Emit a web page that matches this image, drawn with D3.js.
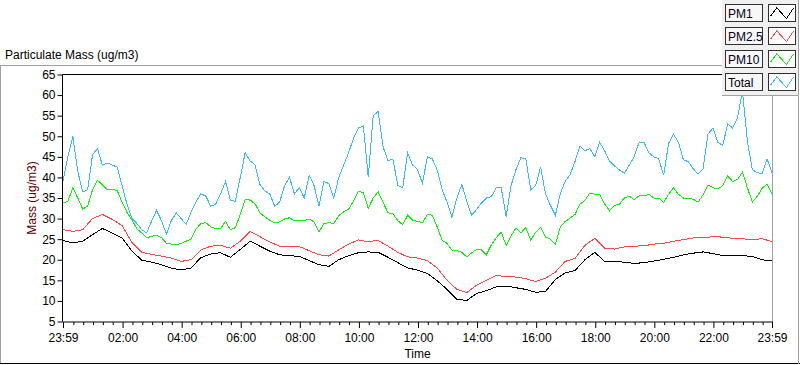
<!DOCTYPE html>
<html>
<head>
<meta charset="utf-8">
<script src="https://cdnjs.cloudflare.com/ajax/libs/d3/7.8.5/d3.min.js"></script>
<style>
  body { margin: 0; background: #fff; }
  svg { display: block; font-family: "Liberation Sans", Arial, sans-serif; font-size: 12px; }
</style>
</head>
<body>
<div id="chart"></div>
<script>
// Total and PM10 : one value every 10 minutes, 23:59 -> 23:59
const totalMass = [39, 45, 50, 41.5, 36.5, 37, 45.5, 47, 43, 43.5, 43, 42.5, 38, 33.5, 30, 28.8, 27.3, 26.5, 29.4, 32,
  29.5, 26.2, 29.5, 31.4, 30, 28.6, 31.5, 34, 36, 35.5, 33, 33.5, 36, 39, 34.5, 34.2, 40,
  46, 44, 43.1, 38.3, 36.7, 36, 33, 34, 38, 40, 36, 37.5, 35, 40.5, 38, 33, 39, 38.5, 35, 40, 43, 46, 49.5, 52,
  52.5, 40, 55, 56, 47.5, 44, 44.5, 38, 37.5, 46, 43,
  42, 38.5, 45, 44.5, 41.8, 37, 34, 30.3, 35, 38.3, 34.2, 30.8, 32.2, 33.8, 35, 35.3, 37.5, 37.5, 30.5, 38,
  41.9, 44.8, 44.5, 37, 38, 42.5, 36, 33.2, 30.8, 36, 39.1, 40.7, 43.9, 47.6, 46.5, 47,
  45, 48.5, 46.5, 44, 42.8, 41.8, 41, 43, 45, 48.5, 48.5, 46, 45, 44.5, 40.5, 48.3, 50.5, 48.5, 44.3, 43.8,
  42.1, 40.8, 42, 50.5, 52, 48.5, 47.8, 53, 52, 54.5, 61, 48.8, 41.9, 41.1, 41, 44.5, 41.1];

const pm10 = [33.8, 34.2, 37.5, 35, 32.3, 33, 37, 39.3, 38.2, 37, 37.1, 36.8, 34, 31.5, 29.7, 27.5, 26.5, 25.3, 25.7, 25.9,
  25.4, 24, 23.8, 23.6, 24, 24.5, 25, 27.4, 28.8, 29, 28, 27.6, 27.6, 29.3, 27.3, 27.8, 31,
  34.6, 34.5, 33.6, 31.4, 30.4, 29.6, 29, 29.2, 29.9, 30.2, 29.5, 29.6, 29.5, 29.9, 29.2, 26.8, 28.8, 29, 28.8,
  30.7, 31.6, 32.3, 34.2, 36.6, 36.3, 32.5, 35, 36.5, 34, 31.4, 31.2, 29.5, 28.5, 30.8, 29.6,
  29.3, 29, 31, 30.8, 28, 24.7, 24, 22.3, 22.2, 21.8, 20.7, 21.7, 22.5, 22.4, 21.2, 23.6, 25.4, 26.7, 23.5, 25.8,
  27.7, 26.5, 27.8, 24.8, 26.7, 27.9, 25.5, 25, 23.7, 28, 29.3, 30.1, 31, 33.5, 34.4, 36.2,
  35.9, 35.8, 33.6, 31.9, 33.2, 33.5, 35, 35.5, 34.6, 35.5, 35.5, 35.9, 35, 35, 33.9, 35.9, 37.5, 35.9, 35, 35,
  34.7, 34, 35.8, 38.2, 37.5, 37.2, 38, 40.4, 39, 39.5, 41.3, 37.5, 34, 35.4, 37.4, 38.3, 35.9];

// PM1 and PM2.5 : one value every 20 minutes
const pm1 = [24.7, 24.1, 24.5, 26.1, 27.6, 26.5, 25.3, 22.1, 19.9, 19.4, 18.8, 18.0, 17.5, 18.0, 20.5, 21.4, 21.7, 20.6, 22.5,
  24.5, 23.3, 22.1, 21.2, 21.0, 20.8, 19.8, 18.8, 18.4, 20.0, 21.0, 21.7, 21.9, 21.8, 20.6, 19.3, 18.0,
  17.5, 16.7, 14.9, 12.8, 10.4, 10.1, 11.8, 12.5, 13.4, 13.6, 13.2, 12.8, 12.1, 12.3, 15.2, 16.8, 17.4, 20.0,
  21.8, 19.6, 19.6, 19.4, 19.1, 19.3, 19.7, 20.1, 20.6, 21.2, 21.6, 21.9, 21.5, 21.0, 21.0, 21.0, 20.8, 20.0, 19.7];

const pm25 = [27.3, 26.9, 27.3, 30.0, 31.0, 29.8, 28.3, 24.2, 21.8, 21.3, 20.9, 20.4, 19.6, 20.0, 22.4, 23.3, 23.5, 22.8, 24.5,
  26.9, 25.6, 24.3, 23.3, 23.3, 23.2, 22.2, 21.2, 20.9, 22.4, 23.8, 24.8, 24.4, 24.7, 23.3, 21.8, 20.7,
  20.4, 19.8, 18.0, 15.0, 12.8, 12.0, 13.8, 15.0, 16.2, 15.9, 15.8, 15.4, 14.7, 15.5, 17.0, 19.6, 20.3, 23.5,
  25.2, 22.8, 22.6, 23.1, 23.3, 23.4, 23.8, 24.0, 24.5, 24.9, 25.3, 25.3, 25.6, 25.5, 25.2, 25.1, 24.9, 25.1, 24.4];

const yTicks = [5, 10, 15, 20, 25, 30, 35, 40, 45, 50, 55, 60, 65];
const xTickLabels = ["23:59", "02:00", "04:00", "06:00", "08:00", "10:00", "12:00",
                     "14:00", "16:00", "18:00", "20:00", "22:00", "23:59"];
const seriesNames = ["PM1", "PM2.5", "PM10", "Total"];

const colors = { "PM1": "#000000", "PM2.5": "#ff4545", "PM10": "#10f010", "Total": "#3fb6f6" };

const width = 800, height = 365;
const plot = { left: 63, right: 772, top: 74.5, bottom: 321.5 };

const start = new Date(2024, 0, 1, 23, 59);
const end = new Date(2024, 0, 2, 23, 59);

function toPoints(values, stepMin) {
  return values.map((v, i) => ({ t: new Date(start.getTime() + i * stepMin * 60000), v: v }));
}

const series = [
  { name: "PM1", points: toPoints(pm1, 20) },
  { name: "PM2.5", points: toPoints(pm25, 20) },
  { name: "PM10", points: toPoints(pm10, 10) },
  { name: "Total", points: toPoints(totalMass, 10) }
];

const xScale = d3.scaleTime().domain([start, end]).range([plot.left, plot.right]);
const yScale = d3.scaleLinear().domain([5, 65]).range([plot.bottom, plot.top]);

const svg = d3.select("#chart").append("svg")
  .attr("width", width)
  .attr("height", height);

// outer frame + title
svg.append("text")
  .attr("x", 5).attr("y", 59)
  .attr("fill", "#000")
  .text("Particulate Mass (ug/m3)");

svg.append("line").attr("x1", 0).attr("x2", 722).attr("y1", 65.5).attr("y2", 65.5)
  .attr("stroke", "#a0a0a0");
svg.append("line").attr("x1", 0.5).attr("x2", 0.5).attr("y1", 65).attr("y2", 364)
  .attr("stroke", "#a0a0a0");
svg.append("line").attr("x1", 0).attr("x2", 800).attr("y1", 363.5).attr("y2", 363.5)
  .attr("stroke", "#000");
svg.append("line").attr("x1", 798.5).attr("x2", 798.5).attr("y1", 95).attr("y2", 364)
  .attr("stroke", "#a0a0a0");

// plot frame
svg.append("line").attr("x1", plot.left - 0.5).attr("x2", plot.right).attr("y1", plot.top).attr("y2", plot.top)
  .attr("stroke", "#000");
svg.append("line").attr("x1", plot.left - 0.5).attr("x2", plot.left - 0.5).attr("y1", plot.top).attr("y2", plot.bottom)
  .attr("stroke", "#000");
svg.append("line").attr("x1", plot.right + 0.5).attr("x2", plot.right + 0.5).attr("y1", plot.top).attr("y2", plot.bottom)
  .attr("stroke", "#a0a0a0");

// y axis
const yAxis = d3.axisLeft(yScale).tickValues(yTicks).tickSize(5).tickPadding(2);
const gy = svg.append("g")
  .attr("transform", "translate(" + (plot.left - 0.5) + ",0)")
  .call(yAxis);
gy.select(".domain").remove();
gy.selectAll("text").attr("font-size", 12).attr("font-family", null).attr("fill", "#000");

svg.append("text")
  .attr("transform", "translate(36," + ((plot.top + plot.bottom) / 2) + ") rotate(-90)")
  .attr("text-anchor", "middle")
  .attr("fill", "#5c0000")
  .text("Mass (ug/m3)");

// x axis
const majorTimes = xTickLabels.map((s, i) => {
  if (i == 0) return start;
  if (i == xTickLabels.length - 1) return end;
  const p = s.split(":");
  return new Date(2024, 0, 2, +p[0], +p[1]);
});
const minorTimes = d3.timeMinute.every(20).range(start, end)
  .filter(t => d3.min(majorTimes, m => Math.abs(m - t)) > 5 * 60000);

svg.append("line")
  .attr("x1", plot.left - 0.5).attr("x2", plot.right + 1)
  .attr("y1", plot.bottom + 0.5).attr("y2", plot.bottom + 0.5)
  .attr("stroke", "#000");

const xAxis = d3.axisBottom(xScale).tickValues(majorTimes).tickSize(6).tickPadding(5)
  .tickFormat((d, i) => xTickLabels[i]);
const gx = svg.append("g")
  .attr("transform", "translate(0," + (plot.bottom + 0.5) + ")")
  .call(xAxis);
gx.select(".domain").remove();
gx.selectAll("text").attr("font-size", 12).attr("font-family", null).attr("fill", "#000");

const xMinor = d3.axisBottom(xScale).tickValues(minorTimes).tickSize(3).tickFormat("");
svg.append("g")
  .attr("transform", "translate(0," + (plot.bottom + 0.5) + ")")
  .call(xMinor)
  .select(".domain").remove();

svg.append("text")
  .attr("x", (plot.left + plot.right) / 2).attr("y", 358)
  .attr("text-anchor", "middle")
  .attr("fill", "#000")
  .text("Time");

// lines
svg.append("clipPath").attr("id", "plotClip")
  .append("rect")
  .attr("x", plot.left).attr("y", plot.top + 0.5)
  .attr("width", plot.right - plot.left).attr("height", plot.bottom - plot.top);

const line = d3.line()
  .x(d => xScale(d.t))
  .y(d => yScale(d.v));

svg.append("g").attr("clip-path", "url(#plotClip)")
  .selectAll(".series")
  .data(series)
  .enter().append("path")
    .attr("class", "series")
    .attr("d", d => line(d.points))
    .attr("fill", "none")
    .attr("stroke", d => colors[d.name])
    .attr("stroke-width", 1)
    .attr("shape-rendering", "crispEdges");

// legend panel
const legend = svg.append("g");
legend.append("rect")
  .attr("x", 722).attr("y", 0).attr("width", 77).attr("height", 96)
  .attr("fill", "#f0f0f0");
legend.append("path")
  .attr("d", "M798.5,0V95.5H722")
  .attr("fill", "none").attr("stroke", "#a0a0a0");

const sample = [[0.06, 0.7], [0.3, 0.17], [0.67, 0.85], [0.94, 0.2]];
const rows = legend.selectAll(".item")
  .data(seriesNames)
  .enter().append("g")
    .attr("class", "item")
    .attr("transform", (d, i) => "translate(0," + (4 + i * 23) + ")");

rows.append("rect")
  .attr("x", 725.5).attr("y", 0.5).attr("width", 37).attr("height", 17)
  .attr("fill", "#f7f7f7").attr("stroke", "#303030");
rows.append("text")
  .attr("x", 728).attr("y", 13.5)
  .attr("font-size", 12)
  .attr("fill", "#000020")
  .text(d => d);
rows.append("rect")
  .attr("x", 768.5).attr("y", 0.5).attr("width", 27).attr("height", 17)
  .attr("fill", "#fff").attr("stroke", "#303030");
rows.append("path")
  .attr("d", d3.line().x(p => 769 + p[0] * 26).y(p => 1 + p[1] * 16)(sample))
  .attr("fill", "none")
  .attr("stroke", d => colors[d])
  .attr("shape-rendering", "crispEdges");
</script>
</body>
</html>
